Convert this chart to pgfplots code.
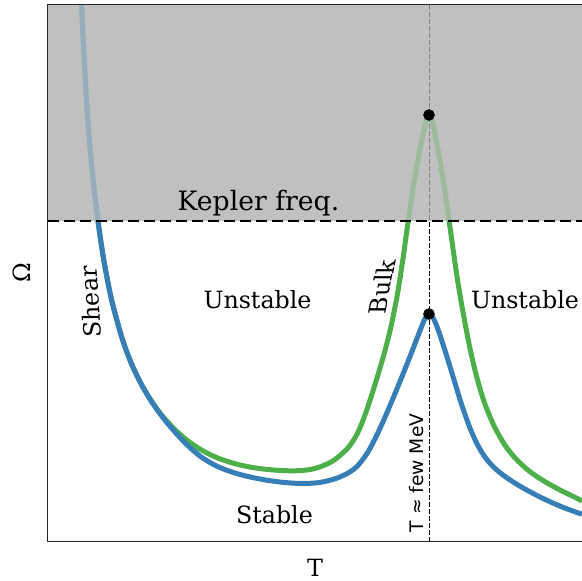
\documentclass[border=0pt]{standalone}
\usepackage{fontspec}
\setmainfont{DejaVu Serif}
\newfontfamily\sansf{DejaVu Sans}
\usepackage{pgfplots}
\pgfplotsset{compat=1.18}

\definecolor{silverbg}{RGB}{192,192,192}
\definecolor{shearblue}{RGB}{55,126,184}
\definecolor{bulkgreen}{RGB}{77,175,74}

\begin{document}
\begin{tikzpicture}[font=\fontsize{17.8}{21}\selectfont]
\begin{axis}[
    name=ax,
    scale only axis,
    width=400.5pt, height=402pt,
    xmin=48, xmax=582, ymin=5, ymax=541,
    y dir=reverse,
    xtick=\empty, ytick=\empty,
    axis on top,
    axis line style={line width=0.75pt, black!85},
    xlabel={T}, ylabel={Ω},
    xlabel style={at={(axis description cs:0.5,0)}, anchor=center, yshift=-20pt},
    ylabel style={at={(axis description cs:0,0.5)}, anchor=center, yshift=19.5pt},
]
% region above the Kepler frequency
\addplot[draw=none, fill=silverbg] coordinates {(48,5) (582,5) (582,221) (48,221)} -- cycle;

% T ~ few MeV
\addplot[black, line width=0.75pt, dash pattern=on 3.75pt off 1.5pt] coordinates {(429,5) (429,541)};

% bulk
\addplot[bulkgreen, line width=3.75pt, smooth] coordinates {
 (80.6,-10) (81.5,5) (84,55) (86.5,100) (89,135) (91.8,167) (94.8,195) (98,221)
 (101.4,245) (105,267) (111.6,300) (120.5,333) (126.1,350) (132.9,367) (141.2,384)
 (150.5,399.5) (161,414.2) (173,427.7) (186,439.4) (200,449.2) (217,457.7)
 (235,463.7) (252,467.4) (270,469.7) (290,470.8) (305,470.2) (318,467.6)
 (333,460.9) (347,449) (355,437.8) (360,427.8) (365,415) (370,400.3) (378,374.7)
 (385,350.6) (391,326.6) (397,296.6) (402,265.4) (408,222.8) (413,188.8)
 (419,154.3) (424,129.8) (427,118.5) (429,114) (431,117.5) (434,129.7)
 (438,149.7) (441,166.6) (445,192) (449,220) (453,248.8) (457,276.4) (461,300.8)
 (465,323) (470,348.5) (476,374.3) (482,395.3) (487,409.5) (495,427.9)
 (505,445.2) (515,457.9) (527,469.3) (538,477.3) (550,484.6) (562,491)
 (573,496.3) (582,501)};

% shear
\addplot[shearblue, line width=3.75pt, smooth] coordinates {
 (80.6,-10) (81.5,5) (84,55) (86.5,100) (89,135) (91.8,167) (94.8,195) (98,221)
 (101.4,245) (105,267) (111.6,300) (120.5,333) (126.1,350) (132.9,367) (141.2,384)
 (150.5,400) (161,415.1) (173,429.8) (186,443.8) (200,456.1) (217,466.3)
 (235,473) (252,477.4) (270,480.7) (288,482.8) (305,483.5) (320,482.4)
 (335,478.8) (348,473.1) (358,465.4) (368,451.9) (377,434.8) (385,417.2)
 (393,398.4) (400,381.4) (407,364.1) (414,346.2) (420,330.6) (424,320.8)
 (427,314.9) (429,313.5) (432,315.9) (436,324.1) (440,335.1) (446,353.7)
 (452,373.2) (457,389.7) (462,405.7) (470,428.1) (478,445.7) (486,458.5)
 (495,468.4) (505,476.5) (517,484.4) (528,490.7) (540,497) (551,502.2)
 (563,507.3) (572,510.7) (582,514.2)};

% fade everything above the Kepler frequency
\addplot[draw=none, fill=silverbg, fill opacity=0.7] coordinates {(48,5) (582,5) (582,221) (48,221)} -- cycle;

% Kepler frequency
\addplot[black, line width=1.9pt, dash pattern=on 8.25pt off 3.75pt] coordinates {(48,221) (582,221)};

% peaks
\addplot[only marks, mark=*, mark size=4.1pt, black] coordinates {(429,115) (429,314)};

\node[anchor=base, font=\fontsize{20}{24}\selectfont] at (axis cs:258.5,210) {Kepler freq.};
\node[anchor=base] at (axis cs:257.5,308) {Unstable};
\node[anchor=base] at (axis cs:525,308) {Unstable};
\node[anchor=base] at (axis cs:274.5,523) {Stable};
\node[xslant=-0.07, rotate=90] at (axis cs:90,302) {Shear};
\node[xslant=0.2, rotate=90] at (axis cs:382,287) {Bulk};
\node[rotate=90, font=\sansf\fontsize{14}{17}\selectfont] at (axis cs:417,473) {T ≈ few MeV};
\end{axis}
\pgfresetboundingbox
\path[use as bounding box] ([xshift=-36pt,yshift=-30pt]ax.south west) rectangle ([yshift=3.75pt]ax.north east);
\end{tikzpicture}
\end{document}
